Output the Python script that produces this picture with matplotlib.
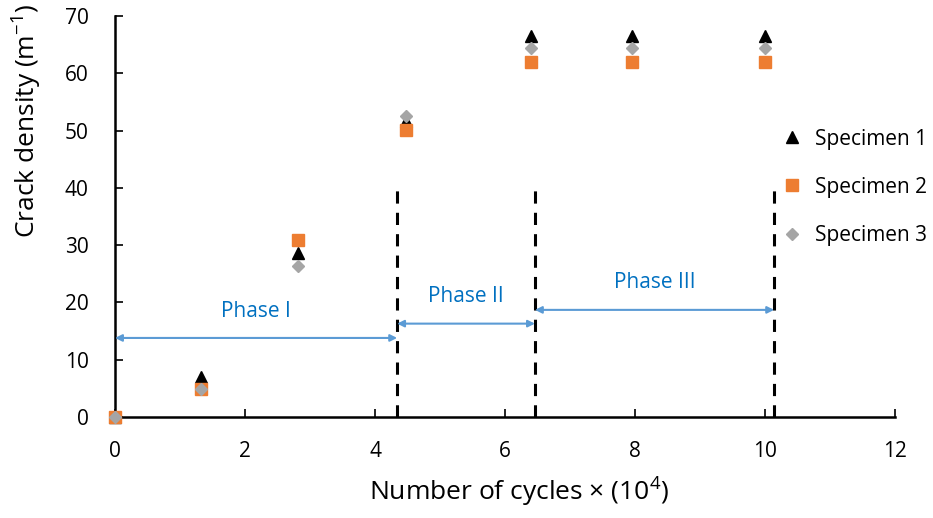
import numpy as np
import matplotlib.pyplot as plt

plt.rcParams['font.family'] = ['Open Sans', 'DejaVu Sans']
plt.rcParams['mathtext.fontset'] = 'custom'
plt.rcParams['mathtext.rm'] = 'Open Sans'

# cycles (x 10^4)
cycles = [0, 1.32, 2.82, 4.48, 6.40, 7.95, 10.0]

# crack density (1/m)
specimen1 = [0, 7.0, 28.6, 51.6, 66.6, 66.6, 66.6]
specimen2 = [0, 4.8, 30.9, 50.1, 62.0, 62.0, 62.0]
specimen3 = [0, 4.8, 26.3, 52.5, 64.4, 64.4, 64.4]

# phase boundaries and labels
bounds = [0, 4.34, 6.46, 10.14]
arrow_y = [13.8, 16.3, 18.7]
phase_names = ['Phase I', 'Phase II', 'Phase III']
label_y = [18.4, 21.1, 23.4]

fig = plt.figure(figsize=(9.33, 5.18), dpi=100)
ax = fig.add_axes([0.1233, 0.195, 0.836, 0.774])

ax.plot(cycles, specimen1, linestyle='none', marker='^', color='black',
        markersize=9, label='Specimen 1', zorder=3)
ax.plot(cycles, specimen2, linestyle='none', marker='s', color='#ED7D31',
        markersize=8, label='Specimen 2', zorder=3)
ax.plot(cycles, specimen3, linestyle='none', marker='D', color='#A5A5A5',
        markersize=6.5, label='Specimen 3', zorder=4)

# dashed phase boundaries
for b in bounds[1:]:
    ax.plot([b, b], [0, 40], linestyle=(0, (4, 3)), color='black', linewidth=2.2, zorder=2)

# double arrows and labels
for i in range(3):
    ax.annotate('', xy=(bounds[i], arrow_y[i]), xytext=(bounds[i + 1], arrow_y[i]),
                arrowprops=dict(arrowstyle='<|-|>', color='#5B9BD5', lw=1.5,
                                mutation_scale=10, shrinkA=0, shrinkB=0))
    ax.text((bounds[i] + bounds[i + 1]) / 2, label_y[i], phase_names[i],
            color='#0070C0', fontsize=15, ha='center', va='center')

ax.set_xlim(0, 12)
ax.set_ylim(0, 70)
ax.set_xticks(np.arange(0, 13, 2))
ax.set_yticks(np.arange(0, 71, 10))
ax.tick_params(direction='in', length=6, width=1.2, labelsize=15)
ax.tick_params(axis='x', pad=17)
ax.tick_params(axis='y', pad=19)
ax.spines['top'].set_visible(False)
ax.spines['right'].set_visible(False)
ax.spines['left'].set_linewidth(1.8)
ax.spines['bottom'].set_linewidth(1.8)

ax.set_xlabel('Number of cycles × (10$^{4}$)', fontsize=19, labelpad=9)
ax.xaxis.label.set_x(0.518)
# y label sits above the axis centre in the original
fig.text(0.028, 0.766, 'Crack density (m$^{-1}$)', fontsize=19,
         rotation=90, ha='center', va='center')

ax.legend(loc='upper left', bbox_to_anchor=(0.844, 0.74), frameon=False,
          fontsize=15, labelspacing=1.3, handletextpad=0.6, handlelength=1.0,
          borderaxespad=0)
for line in ax.lines:
    line.set_clip_on(False)

fig.savefig('out.png', dpi=100)
